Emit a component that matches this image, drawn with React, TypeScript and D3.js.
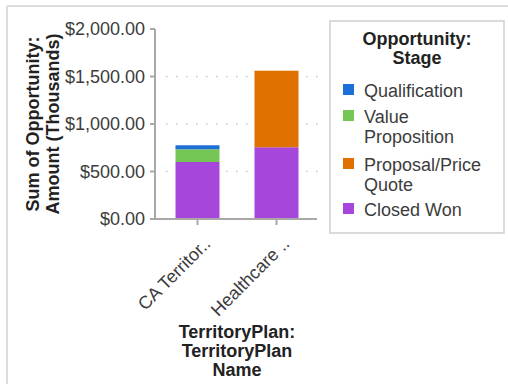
import React from "react";
import * as d3 from "d3";

const categories = ["CA Territor..", "Healthcare .."];
const stages = ["Qualification", "Value Proposition", "Proposal/Price Quote", "Closed Won"];
const legendLines = [["Qualification"], ["Value", "Proposition"], ["Proposal/Price", "Quote"], ["Closed Won"]];
const colors = ["#1b6fd6", "#76c656", "#e07100", "#a646da"];
// values in thousands, per category
const closedWon = [600, 755];
const proposal = [0, 806];
const valueProp = [134, 0];
const qualification = [42, 0];
const yTicks = [0, 500, 1000, 1500, 2000];

const FONT = "'Liberation Sans', Arial, Helvetica, sans-serif";

export default function App() {
  const W = 508, H = 384;
  const y = d3.scaleLinear().domain([0, 2000]).range([219, 29]);
  const x = d3.scaleBand<string>().domain(categories).range([158, 316]).paddingInner(0.443).paddingOuter(0.2215);
  const fmt = (v: number) => "$" + d3.format(",.2f")(v);

  const rows = categories.map((c, i) => ({
    cat: c,
    "Closed Won": closedWon[i],
    "Proposal/Price Quote": proposal[i],
    "Value Proposition": valueProp[i],
    Qualification: qualification[i],
  }));
  const stackOrder = ["Closed Won", "Proposal/Price Quote", "Value Proposition", "Qualification"];
  const stacked = d3.stack<any>().keys(stackOrder)(rows);
  const colorOf = (k: string) => colors[stages.indexOf(k)];

  const legendX = 330, legendY = 21;
  const itemY = [91, 117, 165, 210];

  return (
    <svg width={W} height={H} style={{ position: "absolute", left: 0, top: 0, display: "block", background: "#fff" }} fontFamily={FONT}>
      {/* outer frame */}
      <line x1={7} y1={6} x2={W} y2={6} stroke="#dcdcdc" strokeWidth={2} />
      <line x1={7} y1={6} x2={7} y2={H} stroke="#dcdcdc" strokeWidth={2} />

      {/* gridlines */}
      {yTicks.filter((t) => t > 0 && t < 2000).map((t) => (
        <line key={"g" + t} x1={166} x2={318} y1={y(t)} y2={y(t)} stroke="#c8c8c8" strokeWidth={1.5} strokeDasharray="1.5,8.5" />
      ))}

      {/* bars */}
      {stacked.map((s) =>
        s.map((d, i) =>
          d[1] - d[0] > 0 ? (
            <rect key={s.key + i} x={x(categories[i])} width={x.bandwidth()} y={y(d[1])} height={y(d[0]) - y(d[1])} fill={colorOf(s.key)} />
          ) : null
        )
      )}

      {/* y axis */}
      <line x1={155} x2={155} y1={y(2000)} y2={y(0)} stroke="#a8a8a8" strokeWidth={2} />
      {yTicks.map((t) => (
        <g key={"t" + t}>
          <line x1={150} x2={155} y1={y(t)} y2={y(t)} stroke="#a8a8a8" strokeWidth={2} />
          <text x={145} y={y(t)} dy="0.36em" textAnchor="end" fontSize={18} fill="#3c3c3c">{fmt(t)}</text>
        </g>
      ))}

      {/* x axis */}
      <line x1={152} x2={317} y1={y(0)} y2={y(0)} stroke="#a8a8a8" strokeWidth={2} />
      {categories.map((c) => {
        const cx = (x(c) as number) + x.bandwidth() / 2;
        return (
          <g key={c}>
            <line x1={cx} x2={cx} y1={y(0)} y2={y(0) + 6} stroke="#a8a8a8" strokeWidth={2} />
            <text transform={`translate(${cx + 14},${y(0) + 26}) rotate(-45)`} textAnchor="end" fontSize={18} fill="#3c3c3c">{c}</text>
          </g>
        );
      })}

      {/* y title */}
      <text transform={`translate(39,124) rotate(-90)`} textAnchor="middle" fontSize={18} fontWeight="bold" fill="#222">Sum of Opportunity:</text>
      <text transform={`translate(59,124) rotate(-90)`} textAnchor="middle" fontSize={18} fontWeight="bold" fill="#222">Amount (Thousands)</text>

      {/* x title */}
      {["TerritoryPlan:", "TerritoryPlan", "Name"].map((l, i) => (
        <text key={l + i} x={237} y={338 + i * 19} textAnchor="middle" fontSize={18} fontWeight="bold" fill="#222">{l}</text>
      ))}

      {/* legend */}
      <rect x={legendX} y={legendY} width={174} height={212} fill="#fff" stroke="#cfcfcf" strokeWidth={1.5} />
      <text x={417} y={45} textAnchor="middle" fontSize={18} fontWeight="bold" fill="#222">Opportunity:</text>
      <text x={417} y={64} textAnchor="middle" fontSize={18} fontWeight="bold" fill="#222">Stage</text>
      {stages.map((s, i) => (
        <g key={s}>
          <rect x={343} y={itemY[i] - 7} width={11} height={11} fill={colors[i]} />
          {legendLines[i].map((l, j) => (
            <text key={l} x={364} y={itemY[i] + 6 + j * 20} fontSize={18} fill="#3c3c3c">{l}</text>
          ))}
        </g>
      ))}
    </svg>
  );
}
